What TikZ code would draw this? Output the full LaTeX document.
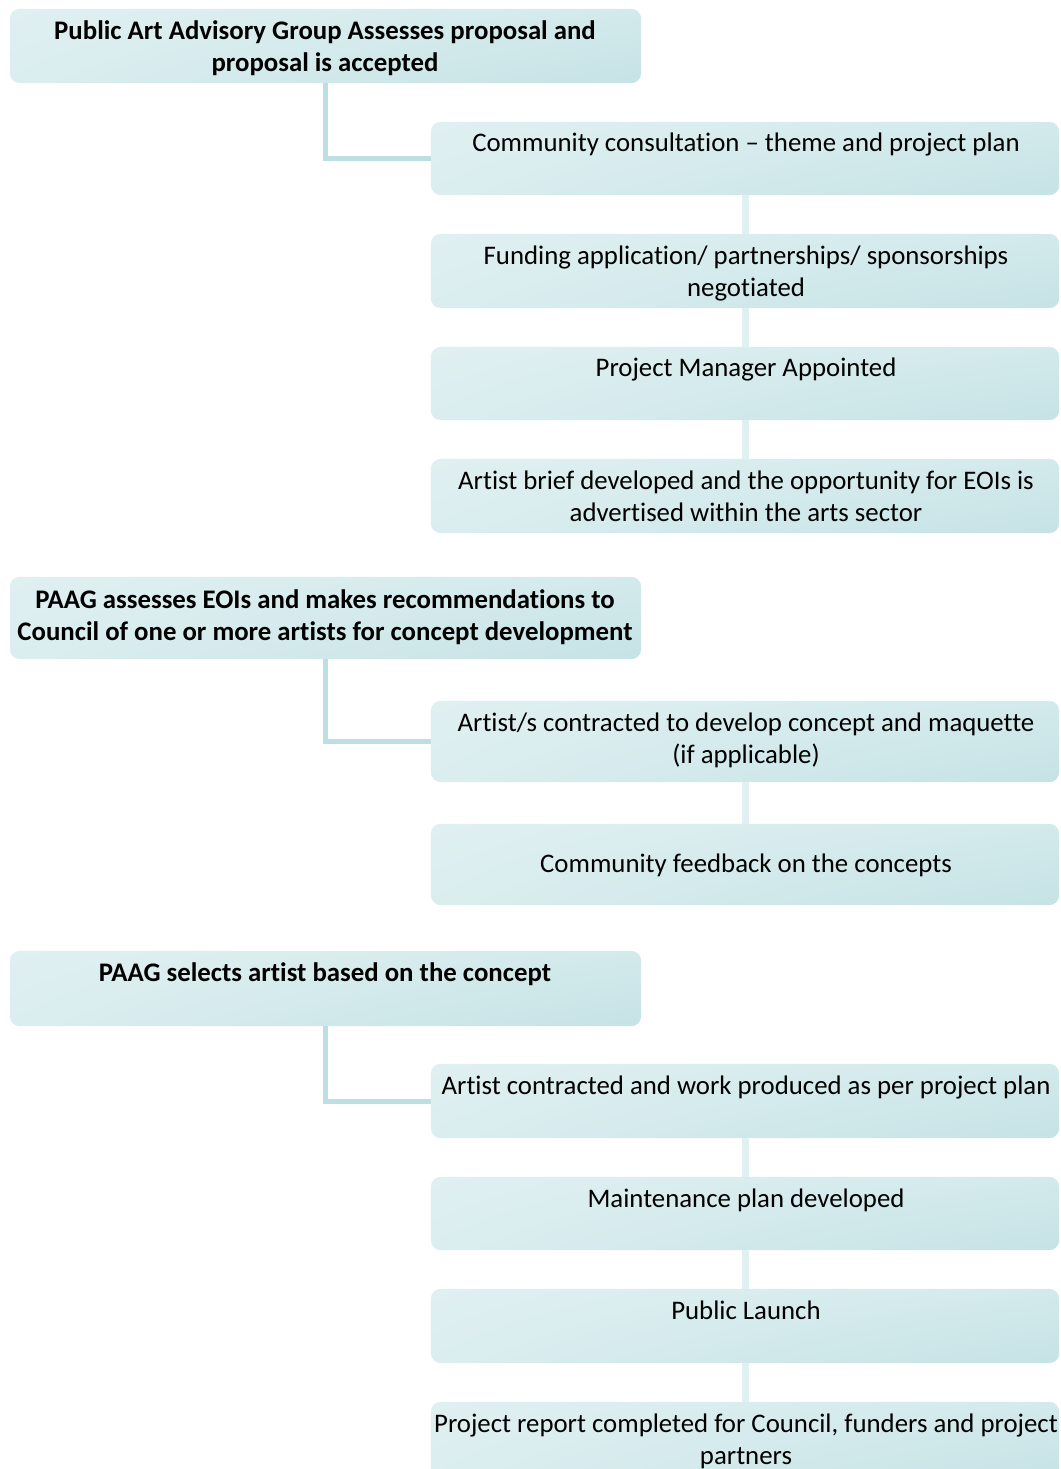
\documentclass[tikz,border=0pt]{standalone}
\usepackage{fontspec}
\setmainfont[Ligatures={TeX,NoCommon}]{Carlito}
\definecolor{elbowcol}{HTML}{BCDFE3}
\definecolor{vcol}{HTML}{E1F0F2}
% light E6F3F4 at top-left, darker teal at bottom-right
\pgfdeclarefunctionalshading{boxshade}{\pgfpoint{-50bp}{-50bp}}{\pgfpoint{50bp}{50bp}}{}{
  50 exch sub 100 div
  exch 50 add 100 div
  dup 3 1 roll
  mul 0.75 mul
  exch 0.3 mul add
  dup dup
  -0.200 mul 0.902 add
  3 1 roll
  -0.100 mul 0.953 add
  exch
  -0.088 mul 0.957 add
}
\begin{document}
\begin{tikzpicture}[x=1pt,y=-1pt,
  stepbox/.style={rounded corners=10pt, shading=boxshade, draw=none},
  txt/.style={align=center, font=\fontsize{26.8}{32}\selectfont, text=black, inner sep=0pt, anchor=base},
  btxt/.style={txt, font=\fontsize{26.8}{32}\selectfont\bfseries},
  elbow/.style={draw=elbowcol, line width=5pt},
  vline/.style={draw=vcol, line width=7pt}]
\useasboundingbox (0,0) rectangle (1060,1469);
\clip (0,0) rectangle (1060,1469);
% box frames
\node[inner sep=0pt, minimum width=631pt, minimum height=74pt] (L1) at (325.5,46) {};
\node[inner sep=0pt, minimum width=628pt, minimum height=73pt] (R1) at (745,158.5) {};
\node[inner sep=0pt, minimum width=628pt, minimum height=74pt] (R2) at (745,271) {};
\node[inner sep=0pt, minimum width=628pt, minimum height=73pt] (R3) at (745,383.5) {};
\node[inner sep=0pt, minimum width=628pt, minimum height=74pt] (R4) at (745,496) {};
\node[inner sep=0pt, minimum width=631pt, minimum height=82pt] (L2) at (325.5,618) {};
\node[inner sep=0pt, minimum width=628pt, minimum height=81pt] (R5) at (745,741.5) {};
\node[inner sep=0pt, minimum width=628pt, minimum height=81pt] (R6) at (745,864.5) {};
\node[inner sep=0pt, minimum width=631pt, minimum height=75pt] (L3) at (325.5,988.5) {};
\node[inner sep=0pt, minimum width=628pt, minimum height=74pt] (R7) at (745,1101) {};
\node[inner sep=0pt, minimum width=628pt, minimum height=73pt] (R8) at (745,1213.5) {};
\node[inner sep=0pt, minimum width=628pt, minimum height=74pt] (R9) at (745,1326) {};
\node[inner sep=0pt, minimum width=628pt, minimum height=80pt] (R10) at (745,1442) {};
\foreach \b in {L1,R1,R2,R3,R4,L2,R5,R6,L3,R7,R8,R9,R10}{
  \path[stepbox] (\b.north west) rectangle (\b.south east);
}
% connectors
\draw[elbow] (L1.south) |- (R1.west);
\draw[elbow] (L2.south) |- (R5.west);
\draw[elbow] (L3.south) |- (R7.west);
\draw[vline] (R1.south) -- (R2.north);
\draw[vline] (R2.south) -- (R3.north);
\draw[vline] (R3.south) -- (R4.north);
\draw[vline] (R5.south) -- (R6.north);
\draw[vline] (R7.south) -- (R8.north);
\draw[vline] (R8.south) -- (R9.north);
\draw[vline] (R9.south) -- (R10.north);
% texts (anchored at last baseline)
\node[btxt] (t1) at (325,72) {Public Art Advisory Group Assesses proposal and\\proposal is accepted};
\node[txt] (t2) at (746,151) {Community consultation – theme and project plan};
\node[txt] (t3) at (746,296) {Funding application/ partnerships/ sponsorships\\negotiated};
\node[txt] (t4) at (746,376) {Project Manager Appointed};
\node[txt] (t5) at (746,521) {Artist brief developed and the opportunity for EOIs is\\advertised within the arts sector};
\node[btxt] (t6) at (325,640) {PAAG assesses EOIs and makes recommendations to\\Council of one or more artists for concept development};
\node[txt] (t7) at (746,763) {Artist/s contracted to develop concept and maquette\\(if applicable)};
\node[txt] (t8) at (746,872) {Community feedback on the concepts};
\node[btxt] (t9) at (325,981) {PAAG selects artist based on the concept};
\node[txt] (t10) at (746,1094) {Artist contracted and work produced as per project plan};
\node[txt] (t11) at (746,1207) {Maintenance plan developed};
\node[txt] (t12) at (746,1319) {Public Launch};
\node[txt] (t13) at (746,1464) {Project report completed for Council, funders and project\\partners};
\end{tikzpicture}
\end{document}
